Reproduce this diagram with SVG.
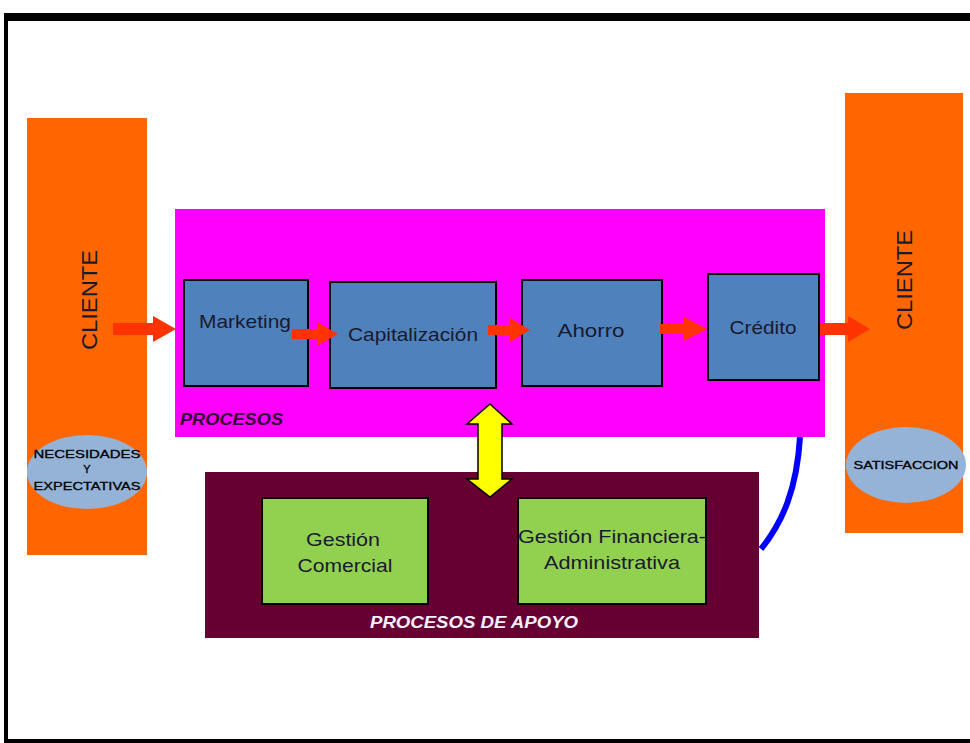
<svg xmlns="http://www.w3.org/2000/svg" width="970" height="743" viewBox="0 0 970 743">
<style>
.lbl{font-family:"Liberation Sans",Arial,sans-serif;font-size:19px;fill:#1a1a2e;text-anchor:middle}
.box{fill:#4F81BD;stroke:#000;stroke-width:2}
.gbox{fill:#92D050;stroke:#000;stroke-width:2}
.cli{fill:#FF6600}
.ell{fill:#95B3D7}
.small{font-family:"Liberation Sans",Arial,sans-serif;font-size:11px;fill:#000;text-anchor:middle;stroke:#000;stroke-width:0.3}
.arr{fill:#FF3300}
</style>
<rect width="970" height="743" fill="#fff"/>
<g id="frame">
<rect x="4" y="13" width="966" height="8" fill="#000"/>
<rect x="4" y="13" width="4" height="730" fill="#000"/>
<rect x="4" y="739" width="966" height="4" fill="#000"/>
</g>
<g id="cliente-left">
<rect class="cli" x="27" y="118" width="120" height="437"/>
<text class="lbl" transform="translate(97,300) rotate(-90)" style="font-size:22px" textLength="100" lengthAdjust="spacingAndGlyphs">CLIENTE</text>
<ellipse class="ell" cx="87" cy="472" rx="60" ry="37"/>
<text class="small" x="87" y="458" textLength="107" lengthAdjust="spacingAndGlyphs">NECESIDADES</text>
<text class="small" x="87" y="473">Y</text>
<text class="small" x="87" y="490" textLength="107" lengthAdjust="spacingAndGlyphs">EXPECTATIVAS</text>
</g>
<g id="cliente-right">
<rect class="cli" x="845" y="93" width="118" height="440"/>
<text class="lbl" transform="translate(912,280) rotate(-90)" style="font-size:22px" textLength="100" lengthAdjust="spacingAndGlyphs">CLIENTE</text>
<ellipse class="ell" cx="906" cy="465" rx="60" ry="38"/>
<text class="small" x="906" y="469" textLength="105" lengthAdjust="spacingAndGlyphs">SATISFACCION</text>
</g>
<g id="procesos">
<rect x="175" y="209" width="650" height="228" fill="#FF00FF"/>
<text x="180" y="425" textLength="103" lengthAdjust="spacingAndGlyphs" style="font-family:'Liberation Sans',Arial,sans-serif;font-size:17px;font-weight:bold;font-style:italic;fill:#330033">PROCESOS</text>
</g>
<g id="apoyo">
<rect x="205" y="472" width="554" height="166" fill="#660033"/>
<text x="370" y="628" textLength="208" lengthAdjust="spacingAndGlyphs" style="font-family:'Liberation Sans',Arial,sans-serif;font-size:16px;font-weight:bold;font-style:italic;fill:#f4f0ff">PROCESOS  DE APOYO</text>
</g>
<g id="marketing">
<rect class="box" x="184" y="280" width="124" height="106"/>
<text class="lbl" x="245" y="328" textLength="92" lengthAdjust="spacingAndGlyphs">Marketing</text>
</g>
<g id="capitalizacion">
<rect class="box" x="330" y="282" width="166" height="106"/>
<text class="lbl" x="413" y="341" textLength="130" lengthAdjust="spacingAndGlyphs">Capitalización</text>
</g>
<g id="ahorro">
<rect class="box" x="522" y="280" width="140" height="106"/>
<text class="lbl" x="591" y="337" textLength="67" lengthAdjust="spacingAndGlyphs">Ahorro</text>
</g>
<g id="credito">
<rect class="box" x="708" y="274" width="111" height="106"/>
<text class="lbl" x="763" y="334" textLength="67" lengthAdjust="spacingAndGlyphs">Crédito</text>
</g>
<g id="gestion-comercial">
<rect class="gbox" x="262" y="498" width="166" height="106"/>
<text class="lbl" x="343" y="546" textLength="74" lengthAdjust="spacingAndGlyphs">Gestión</text>
<text class="lbl" x="345" y="572" textLength="95" lengthAdjust="spacingAndGlyphs">Comercial</text>
</g>
<g id="gestion-financiera">
<rect class="gbox" x="518" y="498" width="188" height="106"/>
<text class="lbl" x="612" y="543" textLength="188" lengthAdjust="spacingAndGlyphs">Gestión Financiera-</text>
<text class="lbl" x="612" y="569" textLength="136" lengthAdjust="spacingAndGlyphs">Administrativa</text>
</g>
<g id="connectors">
<polygon class="arr" points="113,323 153,323 153,316 176,329 153,342 153,335 113,335"/>
<polygon class="arr" points="292,329 317,329 317,322 338,334 317,346 317,339 292,339"/>
<polygon class="arr" points="488,325 510,325 510,318 530,330 510,342 510,335 488,335"/>
<polygon class="arr" points="660,324 684,324 684,317 707,329 684,341 684,334 660,334"/>
<polygon class="arr" points="820,323 848,323 848,316 870,329 848,342 848,335 820,335"/>
<polygon points="490,404 512,424 502,424 502,479 512,479 490,497 467,479 478,479 478,424 467,424" fill="#FFFF00" stroke="#000" stroke-width="1.5"/>
<path d="M800,437 C797,488 783,522 761,549" fill="none" stroke="#0000FF" stroke-width="6"/>
</g>
</svg>
